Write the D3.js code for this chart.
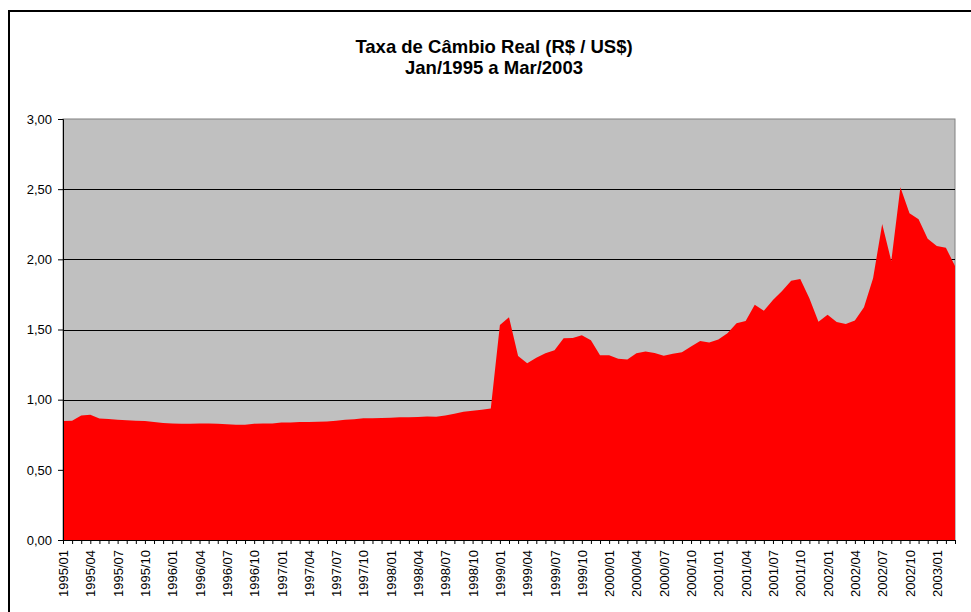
<!DOCTYPE html>
<html>
<head>
<meta charset="utf-8">
<script src="https://cdn.jsdelivr.net/npm/d3@7"></script>
<style>
  body { margin: 0; background: #fff; }
  svg { display: block; font-family: "Liberation Sans", Arial, sans-serif; }
</style>
</head>
<body>
<svg width="971" height="612"></svg>
<script>
const svg = d3.select("svg");

// monthly real exchange rate, Jan/1995 .. Mar/2003 (99 months)
const startYear = 1995;
const values = [
  0.848, 0.850, 0.888, 0.893, 0.865, 0.862, 0.857, 0.853, 0.850, 0.848, 0.840, 0.834,
  0.831, 0.829, 0.829, 0.831, 0.831, 0.829, 0.824, 0.822, 0.822, 0.829, 0.831, 0.831,
  0.838, 0.838, 0.840, 0.840, 0.843, 0.845, 0.850, 0.857, 0.860, 0.867, 0.867, 0.869,
  0.872, 0.874, 0.874, 0.876, 0.880, 0.879, 0.888, 0.900, 0.914, 0.921, 0.929, 0.937,
  1.532, 1.587, 1.311, 1.259, 1.299, 1.330, 1.352, 1.437, 1.440, 1.459, 1.423, 1.316,
  1.316, 1.292, 1.287, 1.330, 1.344, 1.333, 1.313, 1.328, 1.337, 1.378, 1.418, 1.408,
  1.428, 1.473, 1.544, 1.561, 1.677, 1.634, 1.710, 1.774, 1.848, 1.860, 1.722, 1.556,
  1.606, 1.553, 1.539, 1.565, 1.658, 1.865, 2.252, 1.988, 2.513, 2.328, 2.285, 2.147,
  2.095, 2.083, 1.953
];
const months = values.map((v, i) => {
  const y = startYear + Math.floor(i / 12);
  const m = (i % 12) + 1;
  return `${y}/${String(m).padStart(2, "0")}`;
});
const yTicks = [0, 0.5, 1, 1.5, 2, 2.5, 3];
const titleLines = ["Taxa de Câmbio Real (R$ / US$)", "Jan/1995 a Mar/2003"];

const data = months.map((m, i) => ({ month: m, value: values[i] }));

const plot = { left: 63, top: 119, right: 955, bottom: 540 };

// chart area border (runs off the right and bottom edge)
svg.append("rect")
  .attr("x", 9).attr("y", 11)
  .attr("width", 980).attr("height", 620)
  .attr("fill", "none")
  .attr("stroke", "#000")
  .attr("stroke-width", 2);

svg.append("g")
  .selectAll("text")
  .data(titleLines)
  .enter()
  .append("text")
  .attr("x", 494)
  .attr("y", (d, i) => 53 + i * 21)
  .attr("text-anchor", "middle")
  .attr("font-size", 18.5)
  .attr("font-weight", "bold")
  .text((d) => d);

const xScale = d3.scalePoint()
  .domain(months)
  .range([plot.left, plot.right]);

const yScale = d3.scaleLinear()
  .domain([0, 3])
  .range([plot.bottom, plot.top]);

// plot background
svg.append("rect")
  .attr("x", plot.left).attr("y", plot.top)
  .attr("width", plot.right - plot.left)
  .attr("height", plot.bottom - plot.top)
  .attr("fill", "#c0c0c0")
  .attr("stroke", "#808080")
  .attr("stroke-width", 1);

// gridlines
svg.append("g")
  .selectAll("line")
  .data(yTicks.filter((t) => t > 0 && t < 3))
  .enter()
  .append("line")
  .attr("x1", plot.left).attr("x2", plot.right)
  .attr("y1", (d) => Math.round(yScale(d)) + 0.5)
  .attr("y2", (d) => Math.round(yScale(d)) + 0.5)
  .attr("stroke", "#000")
  .attr("stroke-width", 1);

const area = d3.area()
  .x((d) => xScale(d.month))
  .y0(yScale(0))
  .y1((d) => yScale(d.value));

svg.append("path")
  .datum(data)
  .attr("d", area)
  .attr("fill", "#ff0000");

// y axis
const yAxis = d3.axisLeft(yScale)
  .tickValues(yTicks)
  .tickSize(5)
  .tickPadding(6)
  .tickFormat((d) => d3.format(".2f")(d).replace(".", ","));

const yAxisG = svg.append("g")
  .attr("transform", `translate(${plot.left},0)`)
  .call(yAxis);
yAxisG.select(".domain").attr("stroke", "#000");
yAxisG.selectAll("line").attr("stroke", "#000");
yAxisG.selectAll("text").attr("font-size", 13).attr("fill", "#000")
  .attr("font-family", "Liberation Sans, Arial, sans-serif");

// x axis
const xAxis = d3.axisBottom(xScale)
  .tickSize(4)
  .tickSizeOuter(0)
  .tickFormat((d, i) => (i % 3 === 0 ? d : ""));

const xAxisG = svg.append("g")
  .attr("transform", `translate(0,${plot.bottom})`)
  .call(xAxis);
xAxisG.select(".domain").attr("stroke", "#000");
xAxisG.selectAll("line").attr("stroke", "#000");
xAxisG.selectAll("text")
  .attr("font-size", 13)
  .attr("fill", "#000")
  .attr("font-family", "Liberation Sans, Arial, sans-serif")
  .attr("text-anchor", "end")
  .attr("dy", "0.35em")
  .attr("transform", "translate(0,10) rotate(-90)")
  .attr("x", 0)
  .attr("y", 0);
</script>
</body>
</html>
